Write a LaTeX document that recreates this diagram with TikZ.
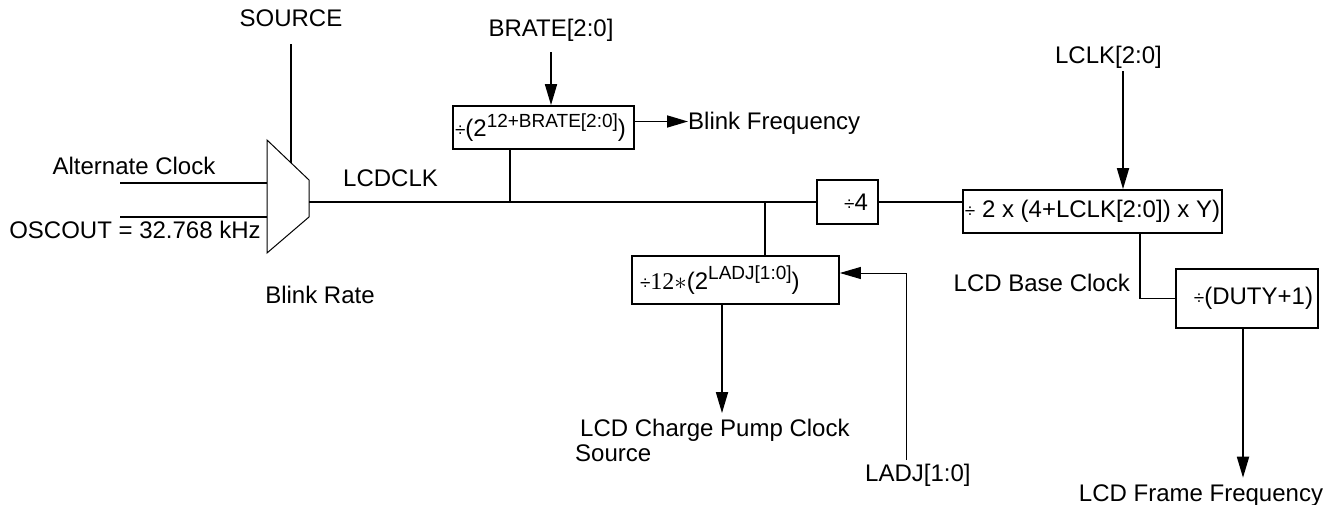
\documentclass[tikz,border=0pt]{standalone}
\usepackage{fontspec}
\setmainfont{Liberation Sans}
\newfontfamily\serf{Liberation Serif}
\usetikzlibrary{arrows.meta,positioning}
\newcommand{\dv}{{\fontsize{19}{19}\selectfont ÷}}
\newcommand{\sups}[1]{\raisebox{9.5pt}{\fontsize{19}{20}\selectfont #1}}

\begin{document}
\begin{tikzpicture}[
        x=1pt, y=-1pt,
        font=\fontsize{24}{29}\selectfont,
        box/.style={draw, line width=1.7pt, inner ysep=1pt, minimum height=43pt},
        lbl/.style={inner sep=0pt},
        wire/.style={line width=1.7pt},
        arr/.style={-{Triangle[length=21pt,width=12pt]}, line width=1.7pt},
    ]
        \useasboundingbox (0,0) rectangle (1328,505);
        \node[box, inner xsep=2pt, text width=177pt, align=left] (brate) at (543.5,127.5) {\dv(2\sups{12+BRATE[2:0]})};
        \node[box, inner xsep=8pt, text width=191pt, align=left, minimum height=48pt] (ladj) at (735.5,280) {\dv{\serf 12}$\ast$(2\sups{LADJ[1:0]})};
        \node[box, inner xsep=10pt, text width=41pt, align=right, minimum height=44pt] (div4) at (847.5,202) {\dv4};
        \node[box, inner xsep=1pt, minimum width=259pt] (lcdiv) at (1092.5,211.5) {\dv\ 2 x (4+LCLK[2:0]) x Y)};
        \node[box, inner xsep=5pt, text width=132pt, align=right, minimum height=59pt] (duty) at (1247,298.5) {\dv(DUTY+1)};
        \node[lbl, anchor=base] (src) at (291,27) {SOURCE};
        \node[lbl, anchor=base] (bratein) at (551,37) {BRATE[2:0]};
        \node[lbl, anchor=base] (lclkin) at (1108.5,64) {LCLK[2:0]};
        \node[lbl, anchor=base] (alt) at (134,175) {Alternate Clock};
        \node[lbl, anchor=base] (osc) at (135,239) {OSCOUT = 32.768 kHz};
        \node[lbl, anchor=base] (rate) at (320,303) {Blink Rate};
        \node[lbl, anchor=base west] (lcdclk) at (343,187) {LCDCLK};
        \node[lbl, anchor=base west] (bfreq) at (688,130) {Blink Frequency};
        \node[lbl, anchor=base east] (baseclk) at (1130,291.7) {LCD Base Clock};
        \node[lbl, anchor=base] (frame) at (1201,501.7) {LCD Frame Frequency};
        \node[lbl, anchor=base west] (ladjin) at (865,481.7) {LADJ[1:0]};
        \node[lbl, anchor=base west] (pump) at (580,436.7) {LCD Charge Pump Clock};
        \node[lbl, anchor=base west] (pumpsrc) at (575,461.7) {Source};
        \coordinate (mtl) at (267,140);
        \coordinate (mtr) at (309,180);
        \coordinate (mbr) at (309,217);
        \coordinate (mbl) at (267,253);
        \coordinate (srcin) at (291,163);
        \coordinate (altin) at (267,183);
        \coordinate (altend) at (120,183);
        \coordinate (oscin) at (267,217);
        \coordinate (oscend) at (120,217);
        \coordinate (muxout) at (309,202);
        \coordinate (tapb) at (510,202);
        \coordinate (tapl) at (765,202);
        \draw[line width=1pt] (mtl) -- (mtr) -- (mbr) -- (mbl) -- cycle;
        \draw[wire, shorten <=17pt] (src.south) -- (srcin);
        \draw[wire] (altend) -- (altin);
        \draw[wire] (oscend) -- (oscin);
        \draw[wire] (muxout) -- (div4.west);
        \draw[wire] (tapb) -- (tapb |- brate.south);
        \draw[wire] (tapl) -- (tapl |- ladj.north);
        \draw[arr, shorten <=10pt] (bratein.south) -- (bratein.south |- brate.north);
        \draw[arr] ([yshift=6pt]brate.east) -- ([yshift=6pt]brate.east -| bfreq.west);
        \draw[arr, shorten <=2pt] ([xshift=14.5pt]lclkin.south) -- ([xshift=14.5pt]lclkin.south |- lcdiv.north);
        \draw[wire] (div4.east) -- (div4.east -| lcdiv.west);
        \draw[wire] ([xshift=47.5pt]lcdiv.south) |- (duty.west);
        \draw[arr, shorten >=7pt] ([xshift=-4pt]duty.south) -- ([xshift=-4pt]duty.south |- frame.north);
        \draw[arr, shorten >=6pt] ([xshift=-13.5pt]ladj.south) -- ([xshift=-13.5pt]ladj.south |- pump.north);
        \draw[arr, line width=1pt, shorten <=4pt] ([xshift=41pt]ladjin.north west) |- ([yshift=7pt]ladj.east);
    \end{tikzpicture}
\end{document}
